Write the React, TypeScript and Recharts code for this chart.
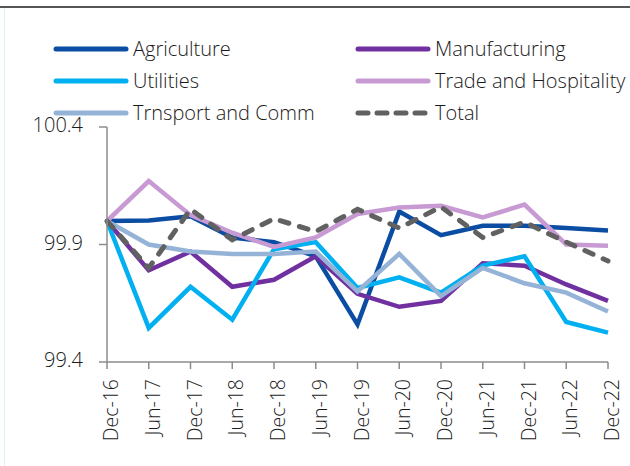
import React from "react";
import { LineChart, Line, XAxis, YAxis } from "recharts";

const categories = ["Dec-16", "Jun-17", "Dec-17", "Jun-18", "Dec-18", "Jun-19", "Dec-19", "Jun-20", "Dec-20", "Jun-21", "Dec-21", "Jun-22", "Dec-22"];
const agriculture = [100.0, 100.002, 100.02, 99.93, 99.91, 99.85, 99.56, 100.04, 99.94, 99.98, 99.98, 99.97, 99.96];
const manufacturing = [100.0, 99.79, 99.87, 99.72, 99.75, 99.85, 99.69, 99.635, 99.66, 99.82, 99.81, 99.73, 99.66];
const utilities = [100.0, 99.545, 99.72, 99.58, 99.88, 99.91, 99.715, 99.76, 99.695, 99.81, 99.85, 99.57, 99.525];
const trade = [100.0, 100.17, 100.025, 99.95, 99.89, 99.93, 100.03, 100.057, 100.065, 100.015, 100.07, 99.9, 99.895];
const transport = [100.0, 99.9, 99.87, 99.86, 99.86, 99.87, 99.7, 99.86, 99.68, 99.8, 99.735, 99.695, 99.615];
const total = [100.0, 99.8, 100.05, 99.92, 100.01, 99.955, 100.05, 99.97, 100.06, 99.93, 99.995, 99.91, 99.83];
const yTicks = [99.4, 99.9, 100.4];

const seriesNames = ["Agriculture", "Manufacturing", "Utilities", "Trade and Hospitality", "Trnsport and Comm", "Total"];
const seriesKeys = ["agriculture", "manufacturing", "utilities", "trade", "transport", "total"];
const seriesColors = ["#0A4DA2", "#7030A0", "#00B0F0", "#C89AD4", "#95B3D7", "#616161"];

const data = categories.map((c, i) => ({
  name: c,
  agriculture: agriculture[i],
  manufacturing: manufacturing[i],
  utilities: utilities[i],
  trade: trade[i],
  transport: transport[i],
  total: total[i],
}));

const FONT = "'Open Sans', 'Noto Sans', sans-serif";
const WEIGHT = 350;
const TEXT = "#1a1a1a";

const XTick = (props: any) => {
  const { x, y, payload } = props;
  return (
    <g transform={`translate(${x},${y})`}>
      <text transform="rotate(-90)" x={-10} y={0} dy={11} textAnchor="end" fill={TEXT} fontSize={19.5} fontWeight={WEIGHT} fontFamily={FONT}>
        {payload.value}
      </text>
    </g>
  );
};

const YTick = (props: any) => {
  const { x, y, payload } = props;
  return (
    <text x={x} y={y} dy={5} textAnchor="end" fill={TEXT} fontSize={20} fontWeight={WEIGHT} fontFamily={FONT}>
      {payload.value.toFixed(1)}
    </text>
  );
};

const legendPos = [
  { lx: 56, tx: 133, y: 49 },
  { lx: 358, tx: 435, y: 49 },
  { lx: 56, tx: 133, y: 81 },
  { lx: 358, tx: 435, y: 81 },
  { lx: 56, tx: 133, y: 113 },
  { lx: 358, tx: 435, y: 113 },
];

export default function App() {
  return (
    <div style={{ position: "absolute", left: 0, top: 0, width: 630, height: 466, background: "#fff", overflow: "hidden" }}>
      <div style={{ position: "absolute", left: 0, top: 6, width: 630, height: 2, background: "#555" }} />
      <div style={{ position: "absolute", left: 4, top: 8, width: 1, height: 458, background: "#dff0f8" }} />
      <svg width={630} height={140} style={{ position: "absolute", left: 0, top: 0 }}>
        {seriesNames.map((n, i) => {
          const p = legendPos[i];
          const dashed = seriesKeys[i] === "total";
          return (
            <g key={n}>
              <line
                x1={p.lx}
                x2={p.lx + 70}
                y1={p.y}
                y2={p.y}
                stroke={seriesColors[i]}
                strokeWidth={5}
                strokeLinecap="round"
                strokeDasharray={dashed ? "10 9" : undefined}
              />
              <text x={p.tx} y={p.y} dy={7} fill={TEXT} fontSize={20} fontWeight={WEIGHT} fontFamily={FONT}>
                {n}
              </text>
            </g>
          );
        })}
      </svg>
      <div style={{ position: "absolute", left: 0, top: 0 }}>
        <LineChart width={630} height={466} data={data} margin={{ top: 127, right: 22, bottom: 14, left: 47 }}>
          <XAxis
            dataKey="name"
            interval={0}
            tick={<XTick />}
            tickSize={7}
            tickMargin={0}
            height={90}
            stroke="#8c8c8c"
            strokeWidth={1.5}
            tickLine={{ stroke: "#8c8c8c", strokeWidth: 1.5 }}
          />
          <YAxis
            domain={[99.4, 100.4]}
            ticks={yTicks}
            width={60}
            tick={<YTick />}
            tickSize={8}
            tickMargin={16}
            stroke="#8c8c8c"
            strokeWidth={1.5}
            tickLine={{ stroke: "#8c8c8c", strokeWidth: 1.5 }}
            allowDataOverflow
          />
          {seriesKeys.map((k, i) => (
            <Line
              key={k}
              dataKey={k}
              name={seriesNames[i]}
              stroke={seriesColors[i]}
              strokeWidth={k === "total" ? 5 : 4.5}
              strokeDasharray={k === "total" ? "9 11" : undefined}
              strokeLinecap={k === "total" ? "round" : "butt"}
              strokeLinejoin="miter"
              dot={false}
              activeDot={false}
              isAnimationActive={false}
            />
          ))}
        </LineChart>
      </div>
    </div>
  );
}
